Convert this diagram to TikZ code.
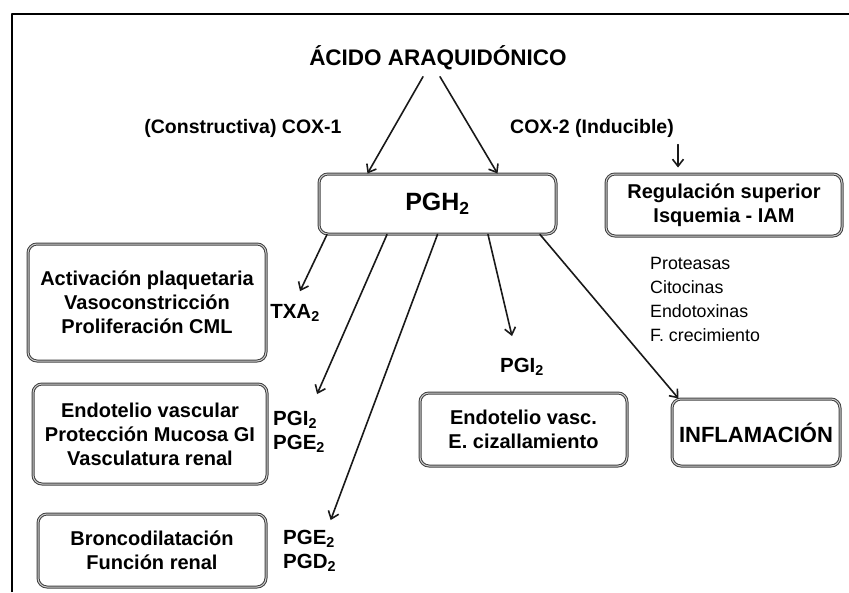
\documentclass[tikz,border=0pt]{standalone}
\usepackage{fontspec}
\setmainfont{Liberation Sans}
\usetikzlibrary{arrows.meta}

\begin{document}
\begin{tikzpicture}[line cap=round,line join=round,>={Straight Barb[length=7pt,width=11pt]},x=1pt,y=-1pt,
  caja/.style={draw=black!75,double=black!20,double distance=1pt,line width=1pt,rounded corners=9pt,align=center,inner sep=0pt,font=\fontsize{20}{24}\selectfont\bfseries},
  etiq/.style={inner sep=2pt,align=left,font=\fontsize{20.5}{24}\selectfont\bfseries},
  flecha/.style={->,line width=1.6pt,black!90}]
\useasboundingbox (0,0) rectangle (849,592);
% marco
\draw[line width=2.4pt,line cap=butt] (12,592) -- (12,14) -- (849,14);
% cabecera
\node[font=\fontsize{22.5}{26}\selectfont\bfseries] (acido) at (438,58) {ÁCIDO ARAQUIDÓNICO};
\node[font=\fontsize{19.5}{24}\selectfont\bfseries] (cox1) at (243,128) {(Constructiva) COX-1};
\node[font=\fontsize{19.5}{24}\selectfont\bfseries] (cox2) at (592,128) {COX-2 (Inducible)};
% cajas
\node[caja,minimum width=237pt,minimum height=60pt,font=\fontsize{25}{28}\selectfont\bfseries] (pgh) at (437.5,204) {PGH\textsubscript{2}};
\node[caja,minimum width=236pt,minimum height=62pt] (reg) at (724,205) {Regulación superior\\Isquemia - IAM};
\node[caja,minimum width=238pt,minimum height=117pt] (plaq) at (147,302.5) {Activación plaquetaria\\Vasoconstricción\\Proliferación CML};
\node[caja,minimum width=234pt,minimum height=100pt] (endo) at (150,434) {Endotelio vascular\\Protección Mucosa GI\\Vasculatura renal};
\node[caja,minimum width=228pt,minimum height=73pt] (bronc) at (152,550.5) {Broncodilatación\\Función renal};
\node[caja,minimum width=207pt,minimum height=73pt] (vasc) at (523.5,429.5) {Endotelio vasc.\\E. cizallamiento};
\node[caja,minimum width=168pt,minimum height=67pt,font=\fontsize{22}{26}\selectfont\bfseries] (infl) at (756,432.5) {INFLAMACIÓN};
% etiquetas
\node[etiq] (txa) at (295,313) {TXA\textsubscript{2}};
\node[etiq,anchor=west] (pgie) at (271,432) {PGI\textsubscript{2}\\PGE\textsubscript{2}};
\node[etiq,anchor=west] (pged) at (281,551) {PGE\textsubscript{2}\\PGD\textsubscript{2}};
\node[etiq] (pgi) at (522,367) {PGI\textsubscript{2}};
\node[anchor=west,align=left,inner sep=0pt,font=\fontsize{17.8}{24}\selectfont] (factores) at (650,299) {Proteasas\\Citocinas\\Endotoxinas\\F. crecimiento};
% flechas
\draw[flecha] ([xshift=-15pt,yshift=-3pt]acido.south) -- ([xshift=-70pt]pgh.north);
\draw[flecha] ([xshift=2pt,yshift=-3pt]acido.south) -- ([xshift=60pt]pgh.north);
\draw[flecha,shorten <=4pt,shorten >=6pt] ([xshift=86pt]cox2.south) -- ([xshift=-46pt]reg.north);
\draw[flecha] ([xshift=-110.5pt]pgh.south) -- ([xshift=5pt,yshift=11pt]txa.north);
\draw[flecha] ([xshift=-50.5pt]pgh.south) -- ([xshift=18pt,yshift=15pt]pgie.north);
\draw[flecha] (pgh.south) -- ([xshift=21pt,yshift=8pt]pged.north);
\draw[flecha] ([xshift=50.5pt]pgh.south) -- ([xshift=-10pt,yshift=20pt]pgi.north);
\draw[flecha] ([xshift=102.5pt]pgh.south) -- ([xshift=7pt]infl.north west);
\end{tikzpicture}
\end{document}
